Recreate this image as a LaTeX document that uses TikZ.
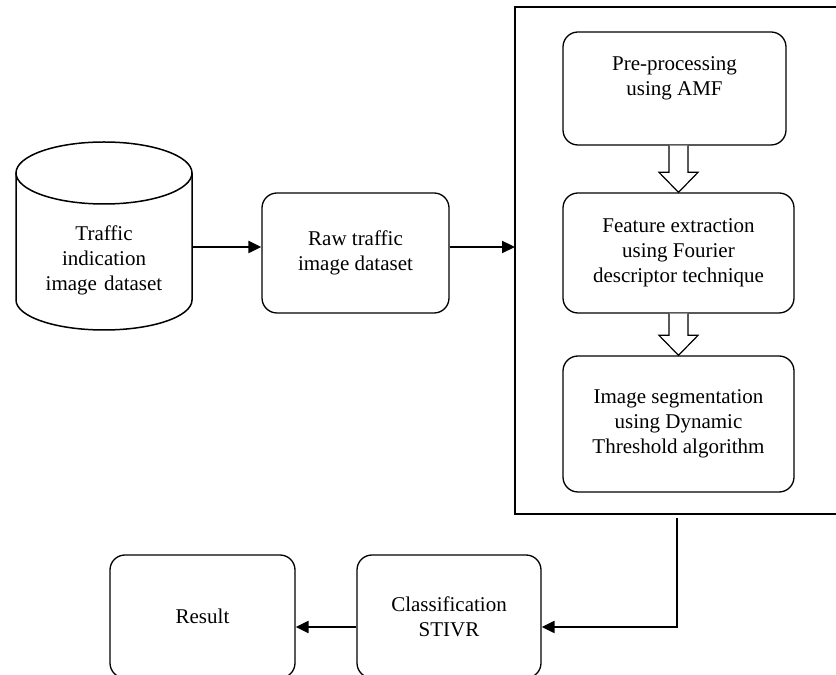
\documentclass[tikz,border=0pt]{standalone}
\usepackage{fontspec}
\setmainfont{Liberation Serif}
\usetikzlibrary{arrows.meta,calc}

\begin{document}
\begin{tikzpicture}[x=1pt,y=1pt,font=\fontsize{21}{25}\selectfont,
        box/.style={draw,line width=1.3pt,rounded corners=15pt,align=center,inner sep=0pt},
        conn/.style={line width=2.2pt,-{Triangle[length=13pt,width=12pt]}},
        hollow/.style={line width=1.2pt,fill=white}]
    \useasboundingbox (0,0) rectangle (836,675);
    \clip (0,0) rectangle (836,675);
    % database cylinder
    \draw[line width=1.5pt] (16,502) -- (16,375) arc[start angle=180,end angle=360,x radius=88,y radius=30] -- (192,502);
    \draw[line width=1.5pt] (104,502) ellipse[x radius=88,y radius=31];
    \node[text width=176pt,align=center,inner sep=0pt] (db) at (104,415) {Traffic\\indication\\image dataset};
    \node[box,minimum width=187pt,minimum height=120pt] (raw) at (355.5,422) {Raw traffic\\image dataset};
    % processing block, open to the right
    \draw[line width=1.8pt] (840,668) -- (515,668) -- (515,161) -- (840,161);
    \coordinate (blkin) at (515,428);
    \coordinate (blkout) at (677,157);
    \node[box,minimum width=223pt,minimum height=113pt] (pre) at (674.5,586.5) {Pre-processing\\using AMF\\~};
    \node[box,minimum width=231pt,minimum height=120pt] (feat) at (678.5,422) {Feature extraction\\using Fourier\\descriptor technique};
    \node[box,minimum width=231pt,minimum height=136pt] (seg) at (678.5,251) {Image segmentation\\using Dynamic\\Threshold algorithm};
    \foreach \a/\b in {pre/feat,feat/seg} {
        \draw[hollow] ($(\a.south -| \b.north)+(-9.5,0)$) -- ($(\b.north)+(-9.5,20)$) -- ($(\b.north)+(-19.5,20)$)
            -- (\b.north) -- ($(\b.north)+(19.5,20)$) -- ($(\b.north)+(9.5,20)$) -- ($(\a.south -| \b.north)+(9.5,0)$);
    }
    % bottom row
    \node[box,minimum width=184pt,minimum height=123pt] (cls) at (449,58.5) {Classification\\STIVR};
    \node[box,minimum width=185pt,minimum height=123pt] (res) at (202.5,58.5) {Result};
    % connectors
    \draw[conn] (blkin -| db.east) -- (blkin -| raw.west);
    \draw[conn] (blkin -| raw.east) -- (blkin);
    \draw[conn] (blkout) |- ([yshift=-10.5pt]cls.east);
    \draw[conn] ([yshift=-10.5pt]cls.west) -- ([yshift=-10.5pt]res.east);
\end{tikzpicture}
\end{document}
